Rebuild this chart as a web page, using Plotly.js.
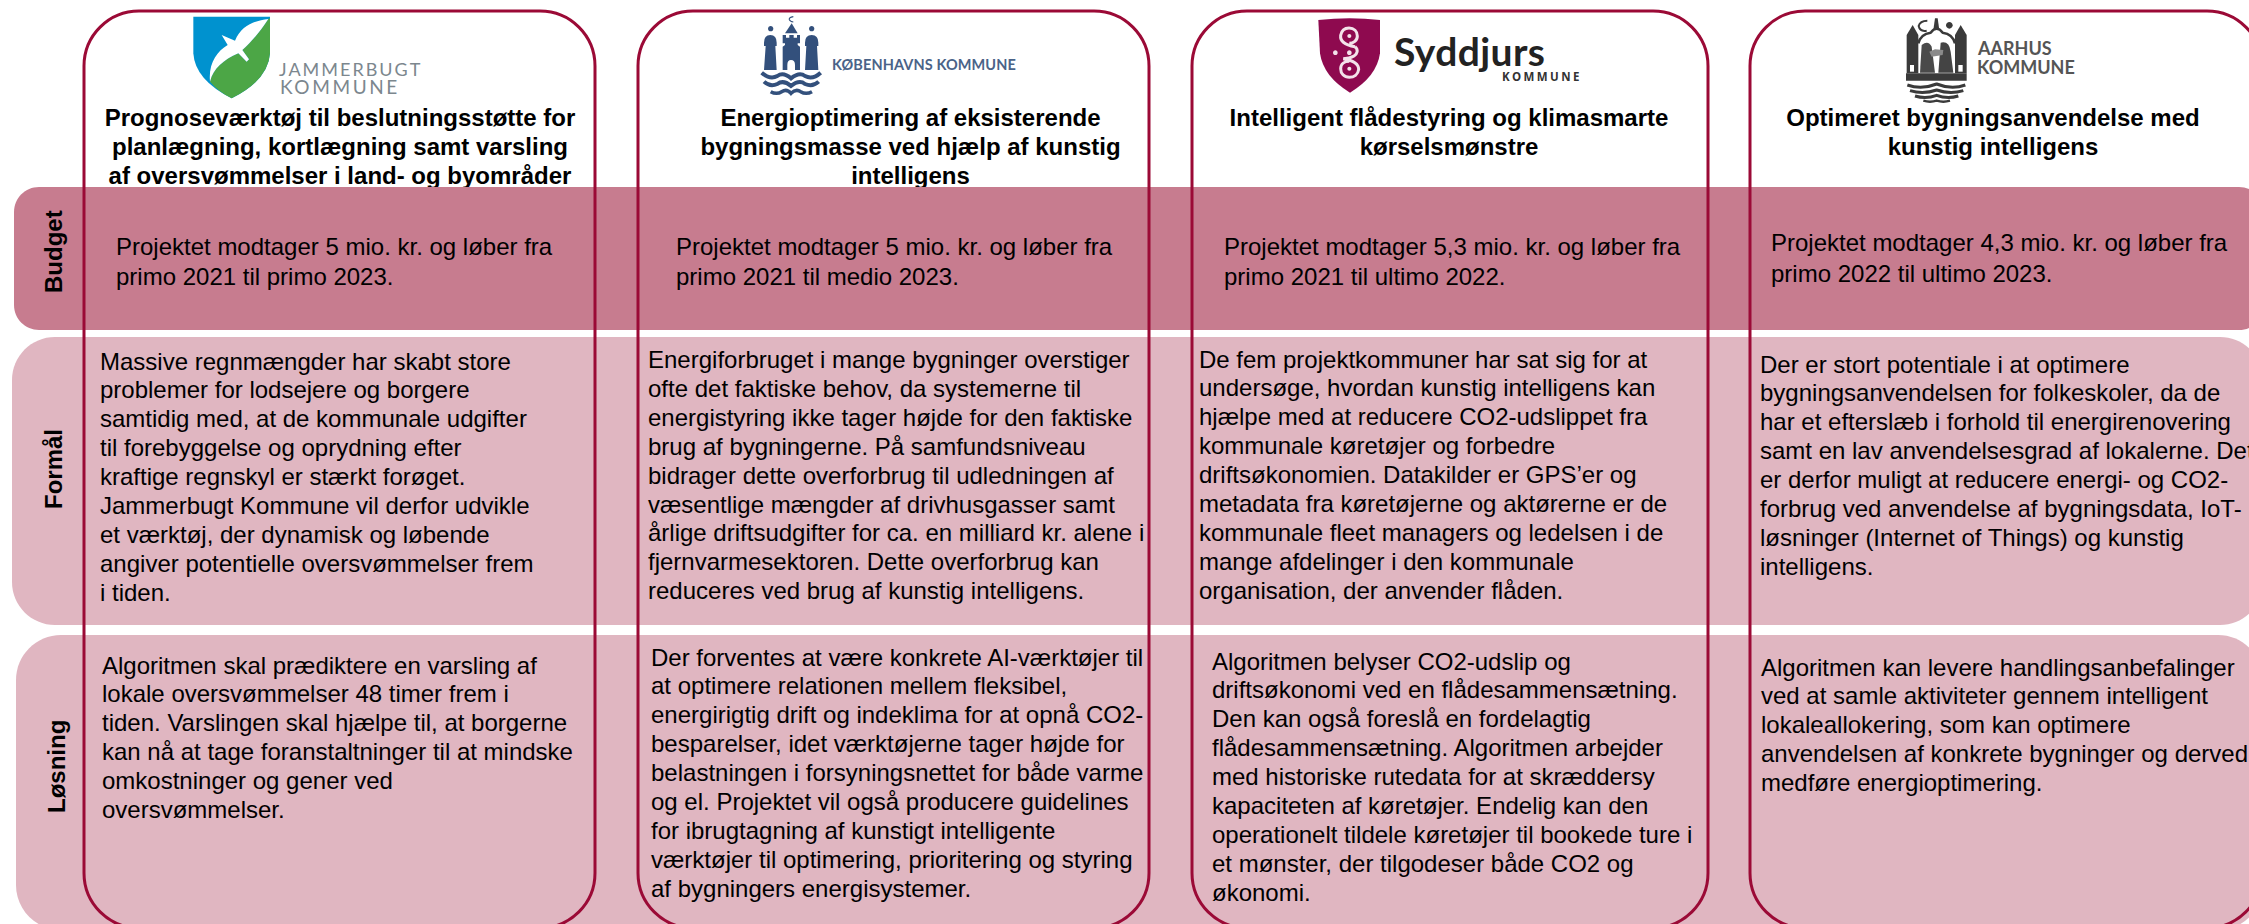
<!DOCTYPE html>
<html lang="da"><head><meta charset="utf-8">
<style>html,body{margin:0;padding:0;background:#fff;overflow:hidden}#c{width:2249px;height:924px}</style>
<script src="https://cdn.plot.ly/plotly-3.0.1.min.js"></script></head><body><div id="c"></div>
<script>
const rows = ["Budget", "Formål", "Løsning"];
const title1 = ["Prognoseværktøj til beslutningsstøtte for","planlægning, kortlægning samt varsling","af oversvømmelser i land- og byområder"];
const title2 = ["Energioptimering af eksisterende","bygningsmasse ved hjælp af kunstig","intelligens"];
const title3 = ["Intelligent flådestyring og klimasmarte","kørselsmønstre"];
const title4 = ["Optimeret bygningsanvendelse med","kunstig intelligens"];
const budget1 = ["Projektet modtager 5 mio. kr. og løber fra","primo 2021 til primo 2023."];
const budget2 = ["Projektet modtager 5 mio. kr. og løber fra","primo 2021 til medio 2023."];
const budget3 = ["Projektet modtager 5,3 mio. kr. og løber fra","primo 2021 til ultimo 2022."];
const budget4 = ["Projektet modtager 4,3 mio. kr. og løber fra","primo 2022 til ultimo 2023."];
const formaal1 = ["Massive regnmængder har skabt store","problemer for lodsejere og borgere","samtidig med, at de kommunale udgifter","til forebyggelse og oprydning efter","kraftige regnskyl er stærkt forøget.","Jammerbugt Kommune vil derfor udvikle","et værktøj, der dynamisk og løbende","angiver potentielle oversvømmelser frem","i tiden."];
const formaal2 = ["Energiforbruget i mange bygninger overstiger","ofte det faktiske behov, da systemerne til","energistyring ikke tager højde for den faktiske","brug af bygningerne. På samfundsniveau","bidrager dette overforbrug til udledningen af","væsentlige mængder af drivhusgasser samt","årlige driftsudgifter for ca. en milliard kr. alene i","fjernvarmesektoren. Dette overforbrug kan","reduceres ved brug af kunstig intelligens."];
const formaal3 = ["De fem projektkommuner har sat sig for at","undersøge, hvordan kunstig intelligens kan","hjælpe med at reducere CO2-udslippet fra","kommunale køretøjer og forbedre","driftsøkonomien. Datakilder er GPS’er og","metadata fra køretøjerne og aktørerne er de","kommunale fleet managers og ledelsen i de","mange afdelinger i den kommunale","organisation, der anvender flåden."];
const formaal4 = ["Der er stort potentiale i at optimere","bygningsanvendelsen for folkeskoler, da de","har et efterslæb i forhold til energirenovering","samt en lav anvendelsesgrad af lokalerne. Det","er derfor muligt at reducere energi- og CO2-","forbrug ved anvendelse af bygningsdata, IoT-","løsninger (Internet of Things) og kunstig","intelligens."];
const loesning1 = ["Algoritmen skal prædiktere en varsling af","lokale oversvømmelser 48 timer frem i","tiden. Varslingen skal hjælpe til, at borgerne","kan nå at tage foranstaltninger til at mindske","omkostninger og gener ved","oversvømmelser."];
const loesning2 = ["Der forventes at være konkrete AI-værktøjer til","at optimere relationen mellem fleksibel,","energirigtig drift og indeklima for at opnå CO2-","besparelser, idet værktøjerne tager højde for","belastningen i forsyningsnettet for både varme","og el. Projektet vil også producere guidelines","for ibrugtagning af kunstigt intelligente","værktøjer til optimering, prioritering og styring","af bygningers energisystemer."];
const loesning3 = ["Algoritmen belyser CO2-udslip og","driftsøkonomi ved en flådesammensætning.","Den kan også foreslå en fordelagtig","flådesammensætning. Algoritmen arbejder","med historiske rutedata for at skræddersy","kapaciteten af køretøjer. Endelig kan den","operationelt tildele køretøjer til bookede ture i","et mønster, der tilgodeser både CO2 og","økonomi."];
const loesning4 = ["Algoritmen kan levere handlingsanbefalinger","ved at samle aktiviteter gennem intelligent","lokaleallokering, som kan optimere","anvendelsen af konkrete bygninger og derved","medføre energioptimering."];

const FONT = "Liberation Sans, Arial, sans-serif", SIZE = 24, PITCH = 28.9;
const BASE = 8.0; // baseline offset from the middle of a line box
const annotations = [], shapes = [], traces = [];

function line(x, baseline, t, o = {}) {
  annotations.push(Object.assign({x, y: baseline - BASE, xref:"x", yref:"y", text:t, showarrow:false,
    xanchor:"left", yanchor:"middle", align:"left", borderpad:0, borderwidth:0,
    font:{family:FONT, size:SIZE, color:"#000"}}, o));
}
function block(lines, x, b0, pitch = PITCH) { lines.forEach((t,i) => line(x, b0 + i*pitch, t)); }

function rr(x0,y0,x1,y1,r){ const k=r*0.448;
  return `M${x0+r},${y0}L${x1-r},${y0}C${x1-k},${y0} ${x1},${y0+k} ${x1},${y0+r}L${x1},${y1-r}C${x1},${y1-k} ${x1-k},${y1} ${x1-r},${y1}L${x0+r},${y1}C${x0+k},${y1} ${x0},${y1-k} ${x0},${y1-r}L${x0},${y0+r}C${x0},${y0+k} ${x0+k},${y0} ${x0+r},${y0}Z`; }
function addShape(path, fill, lineColor, w){ shapes.push({type:"path", path, layer:"above", xref:"x", yref:"y",
  fillcolor: fill||"rgba(0,0,0,0)", line:{color: lineColor||"rgba(0,0,0,0)", width: w||0}}); }

// Logo artwork helper: local coordinates are 3x crops anchored at (ox, oy)
function art(ox,oy){ const map = d => d.replace(/(-?\d+\.?\d*),(-?\d+\.?\d*)/g,(m,a,b)=>`${(ox+a/3).toFixed(2)},${(oy+b/3).toFixed(2)}`);
  return { fill:(d,c)=>addShape(map(d),c), stroke:(d,c,w)=>addShape(map(d),null,c,w),
    dot:(cx,cy,r,c)=>{ const k=r*0.552; addShape(map(`M${cx-r},${cy}C${cx-r},${cy-k} ${cx-k},${cy-r} ${cx},${cy-r}C${cx+k},${cy-r} ${cx+r},${cy-k} ${cx+r},${cy}C${cx+r},${cy+k} ${cx+k},${cy+r} ${cx},${cy+r}C${cx-k},${cy+r} ${cx-r},${cy+k} ${cx-r},${cy}Z`),c); } }; }

// Jammerbugt
{ const a = art(185,10);
  a.fill("M25,20L255,20L255,130Q250,210 140,265Q30,210 25,130Z","#0092CF");
  a.fill("M250,27C225,65 200,95 172,120L192,148L185,155L160,130C115,150 85,175 75,215Q100,245 140,265Q250,210 255,130L255,25Z","#4CA646");
  a.fill("M250,27C210,32 170,45 150,92L110,75L128,105C95,125 70,160 75,215C85,175 115,150 160,130L185,155L192,148L172,120C200,95 225,65 250,27Z","#FFFFFF");
}
// København
{ const a = art(750,10), c = "#33507C";
  a.fill("M42,180L47,108L42,108L42,98Q42,75 61,75Q80,75 80,98L80,108L76,108L80,180Z",c);
  a.fill("M165,180L169,108L165,108L165,98Q165,75 185,75Q205,75 205,98L205,108L201,108L205,180Z",c);
  a.fill("M125,40L143,70L105,70Z",c);
  a.fill("M98,75L108,75L108,83L118,83L118,75L131,75L131,83L141,83L141,75L150,75L150,100L143,100L143,105L150,110L150,180L135,180L135,165Q135,150 123,150Q112,150 112,165L112,180L98,180L98,110L105,105L105,100L98,100Z",c);
  a.stroke("M35,188Q60,210 82,198Q100,185 123,205Q148,185 165,198Q188,210 212,188",c,4);
  a.stroke("M42,215Q60,232 82,222Q100,208 123,228Q148,208 165,222Q188,232 206,215",c,4);
  a.stroke("M62,245Q80,255 95,245Q110,235 123,250Q138,235 152,245Q168,255 186,245",c,3.5);
  a.dot(62,56,8,c); a.dot(185,56,8,c);
  a.stroke("M130,20Q116,22 118,29Q120,35 130,36",c,1.2);
}
// Syddjurs
{ const a = art(1300,10), w = "#F3E3EA";
  a.fill("M55,30Q150,20 240,30L240,130Q230,200 150,248Q70,200 60,130Z","#8E0A4F");
  a.stroke("M165,110C130,104 120,92 122,76C125,60 135,54 147,54C162,54 172,64 172,78C172,92 160,100 148,100",w,3);
  a.stroke("M130,146C165,152 176,164 176,178C174,194 162,202 148,202C132,202 122,190 122,176C122,162 134,154 148,154",w,3);
  a.stroke("M165,110C176,120 172,132 162,138C152,144 140,146 130,146",w,3);
  a.dot(148,78,6,w); a.dot(148,176,6,w); a.dot(148,128,7,w); a.dot(106,128,7,w);
}
// Aarhus
{ const a = art(1890,10), c = "#3A3A3A";
  a.fill("M50,190L50,75L68,45L85,75L85,190Z",c);
  a.fill("M195,190L195,75L212,45L230,75L230,190Z",c);
  a.fill("M135,25L143,25L148,60L130,60Z",c);
  a.stroke("M85,100Q92,72 122,68Q140,45 158,68Q188,72 195,100",c,2.5);
  a.fill("M48,190L230,190L230,212L48,212Z",c);
  a.fill("M95,105Q115,90 125,110L135,188L90,188Z","#4A4A4A");
  a.fill("M152,98Q178,92 182,125L190,188L145,188Z","#444444");
  a.fill("M118,125L135,118L160,120L158,135L125,140Z","#8A8A8A");
  a.fill("M60,165L72,165L72,185L60,185Z","#FFFFFF");
  a.fill("M205,165L218,165L218,185L205,185Z","#FFFFFF");
  a.stroke("M52,225Q95,240 140,222Q185,240 226,225",c,3);
  a.stroke("M60,242Q100,254 140,240Q180,254 220,242",c,3);
  a.stroke("M75,258Q108,268 140,256Q172,268 205,258",c,3);
  a.stroke("M100,272Q120,278 140,272Q160,278 180,272",c,2.5);
  a.stroke("M112,32Q90,32 86,48Q90,66 110,62",c,2);
  a.dot(178,46,10,c);
}

// Horizontal bands
addShape(rr(14,187,2264,330,25), "#C77C8F");
addShape(rr(12,337,2263,625,43), "#E0B6C1");
addShape(rr(16,635,2263,930,45), "#E0B6C1");

// Project cards
[[84,595],[638,1149],[1192,1708],[1750,2262]].forEach(c => addShape(rr(c[0],11,c[1],928,55), null, "#9B0A36", 3));

// Titles sit under the bands, so they are text traces
[[title1,340],[title2,910.5],[title3,1449],[title4,1993]].forEach(([t,x]) => {
  traces.push({type:"scatter", mode:"text", x:t.map(()=>x), y:t.map((_,i)=>126.7+i*29-7.2), text:t,
    textposition:"middle center", cliponaxis:true, hoverinfo:"skip", showlegend:false,
    textfont:{family:FONT, size:SIZE, color:"#000", weight:700}});
});

// Row labels
[[53,252],[53,469],[56.5,766.5]].forEach(([x,y],i) => annotations.push({x,y,xref:"x",yref:"y",text:rows[i],showarrow:false,
  textangle:-90,xanchor:"center",yanchor:"middle",borderpad:0,font:{family:FONT,size:SIZE,color:"#000",weight:700}}));

// Body text
block(budget1,115.5,254,30.5); block(budget2,675.5,254,30.5); block(budget3,1223.5,254,30.5); block(budget4,1771,250,31);
block(formaal1,99.5,369); block(formaal2,648,367.5); block(formaal3,1199,367); block(formaal4,1759.5,372);
block(loesning1,102,673); block(loesning2,650.5,665); block(loesning3,1212,669); block(loesning4,1761,675);

// Logo wordmarks
const sp = {};
function mark(x,b,t,size,color,fam,weight,spacing){ line(x,b,t,{font:{family:fam,size,color,weight}});
  const A = annotations[annotations.length-1]; A.y = b - size*0.35; sp[t+"|"+size] = spacing; }
mark(279,75,"JAMMERBUGT",18,"#7C878E","Lato",400,"2px");
mark(280,93,"KOMMUNE",19,"#7C878E","Lato",400,"2.6px");
mark(832,70,"KØBENHAVNS KOMMUNE",14.5,"#4A6388","Lato",700,"0.1px");
mark(1394,65,"Syddjurs",39,"#222222","Lato",700,"0.4px");
mark(1502,81,"KOMMUNE",11.5,"#333333","Open Sans",700,"2.4px");
mark(1977,54,"AARHUS",18,"#555555","Lato",700,"0px");
mark(1977,73,"KOMMUNE",18,"#555555","Lato",700,"0px");

Plotly.newPlot("c", traces, {
  width:2249, height:924, margin:{l:0,r:0,t:0,b:0}, showlegend:false,
  paper_bgcolor:"#fff", plot_bgcolor:"#fff",
  xaxis:{range:[0,2249],visible:false,fixedrange:true},
  yaxis:{range:[924,0],visible:false,fixedrange:true},
  shapes, annotations
},{displayModeBar:false,responsive:false}).then(()=>{
  document.querySelectorAll(".annotation-text").forEach(el=>{
    const k = el.textContent+"|"+parseFloat(el.style.fontSize);
    if (sp[k]) el.style.letterSpacing = sp[k];
  });
});
</script></body></html>
